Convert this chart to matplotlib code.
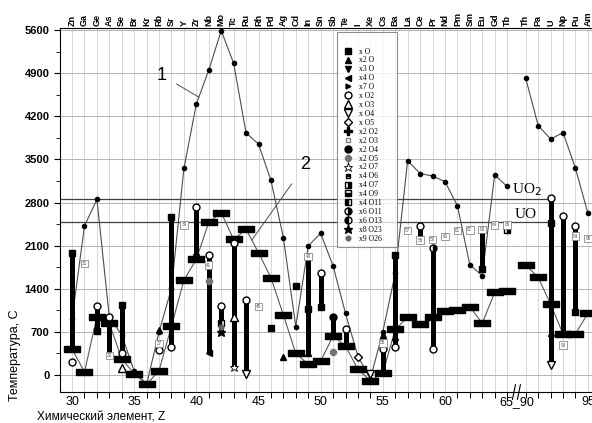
import matplotlib
matplotlib.use('Agg')
import matplotlib.pyplot as plt
import matplotlib.transforms as mtransforms
from matplotlib.lines import Line2D
from matplotlib.ticker import FixedLocator, MultipleLocator

plt.rcParams['font.family'] = ['Liberation Sans Narrow', 'Liberation Sans', 'DejaVu Sans']

# elements and their atomic numbers (66..89 are cut out of the axis)
symbols = ['Zn', 'Ga', 'Ge', 'As', 'Se', 'Br', 'Kr', 'Rb', 'Sr', 'Y', 'Zr', 'Nb', 'Mo',
           'Tc', 'Ru', 'Rh', 'Pd', 'Ag', 'Cd', 'In', 'Sn', 'Sb', 'Te', 'I', 'Xe', 'Cs',
           'Ba', 'La', 'Ce', 'Pr', 'Nd', 'Pm', 'Sm', 'Eu', 'Gd', 'Tb',
           'Th', 'Pa', 'U', 'Np', 'Pu', 'Am']
z_numbers = list(range(30, 66)) + list(range(90, 96))

# curve 1 - boiling point of the element
t_boil = [910, 2420, 2850, 940, 650, 60, -150, 700, 1410, 3355, 4400, 4950, 5590,
          5060, 3930, 3750, 3160, 2230, 785, 2095, 2300, 1770, 1000, 300, -60, 700,
          1650, 3480, 3270, 3230, 3140, 2750, 1790, 1610, 3250, 3060,
          4815, 4050, 3830, 3935, 3355, 2625]
# curve 2 - melting point of the element
t_melt = [420, 50, 947, 840, 260, 20, -150, 70, 795, 1540, 1878, 2480, 2636,
          2200, 2365, 1985, 1580, 975, 352, 173, 227, 633, 470, 93, -92, 28,
          742, 937, 823, 947, 1040, 1055, 1110, 840, 1340, 1370,
          1785, 1585, 1150, 665, 670, 1000]

# oxide ranges: (Z, top, bottom)
oxide_bars = [(30, 1985, 420), (32, 1115, 710), (33, 940, 315), (34, 1130, 245),
              (38, 2570, 460), (40, 2730, 1920), (41, 1950, 360), (42, 1120, 705),
              (43, 2140, 135), (44, 1215, 20), (49, 1920, 350), (50, 1650, 1110),
              (51, 945, 650), (52, 745, 470), (55, 650, 30), (56, 1950, 460),
              (58, 2420, 2190), (59, 2055, 430), (63, 2365, 1715),
              (92, 2870, 160), (93, 2580, 675), (94, 2420, 1030)]

# oxide melting / decomposition points, one list per formula type
x_o = [(30, 1985), (32, 710), (34, 1130), (38, 2570), (46, 770), (48, 1445),
       (49, 1065), (50, 1110), (56, 1950), (63, 1715), (92, 2475), (94, 1030)]
x2_o = [(35, 30), (37, 730), (47, 300), (49, 350), (55, 650), (56, 620), (92, 675)]
x3_o = [(40, 1920)]
x4_o = [(41, 360)]
x7_o = []
x_o2 = [(30, 215), (32, 1115), (33, 940), (34, 350), (37, 405), (38, 460), (40, 2730),
        (41, 1950), (42, 1120), (43, 2140), (44, 1215), (50, 1650), (52, 745),
        (55, 430), (56, 460), (58, 2420), (59, 430), (92, 2870), (93, 2580), (94, 2420)]
x_o3 = [(34, 110), (43, 945)]
x_o4 = [(44, 20), (54, 10), (92, 160)]
x_o5 = [(53, 300)]
x2_o2 = [(51, 650)]
x2_o3 = [(31, 1810), (33, 315), (37, 514), (39, 2435), (41, 1785), (45, 1110),
         (49, 1920), (55, 520), (57, 2345), (58, 2190), (59, 2200), (60, 2245),
         (61, 2345), (62, 2355), (63, 2365), (64, 2435), (65, 2435), (93, 485),
         (94, 2255), (95, 2215)]
x2_o4 = [(51, 945)]
x2_o5 = [(41, 1530), (51, 380)]
x2_o7 = [(43, 135)]
x4_o6 = []
x4_o7 = [(65, 2355)]
x4_o9 = []
x4_o11 = [(42, 840)]
x6_o11 = [(59, 2055)]
x6_o13 = []
x8_o23 = [(42, 705)]
x9_o26 = [(42, 780)]

t_uo2 = 2850
t_uo = 2480


def zx(z):
    # position on the broken axis
    return z if z <= 65 else z - 23.5


styles = [
    ('x O', x_o, dict(marker='s', mfc='k', mec='k', ms=4.5)),
    ('x2 O', x2_o, dict(marker='^', mfc='k', mec='k', ms=5)),
    ('x3 O', x3_o, dict(marker='v', mfc='k', mec='k', ms=5)),
    ('x4 O', x4_o, dict(marker='<', mfc='k', mec='k', ms=5)),
    ('x7 O', x7_o, dict(marker='>', mfc='k', mec='k', ms=3.5)),
    ('x O2', x_o2, dict(marker='o', mfc='white', mec='k', ms=5)),
    ('x O3', x_o3, dict(marker='^', mfc='white', mec='k', ms=5.5)),
    ('x O4', x_o4, dict(marker='v', mfc='white', mec='k', ms=5.5)),
    ('x O5', x_o5, dict(marker='D', mfc='white', mec='k', ms=4.5)),
    ('x2 O2', x2_o2, dict(marker='P', mfc='k', mec='k', ms=5.5)),
    ('x2 O3', [], dict(marker='s', mfc='white', mec='0.5', ms=3.5)),
    ('x2 O4', x2_o4, dict(marker='o', mfc='k', mec='k', ms=5)),
    ('x2 O5', x2_o5, dict(marker='8', mfc='0.45', mec='0.45', ms=5)),
    ('x2 O7', x2_o7, dict(marker='*', mfc='white', mec='k', ms=6.5, mew=0.6)),
    ('x4 O6', x4_o6, dict(marker='s', mfc='k', mec='k', fillstyle='top', markerfacecoloralt='white', ms=3.5)),
    ('x4 O7', x4_o7, dict(marker='s', mfc='k', mec='k', fillstyle='right', markerfacecoloralt='white', ms=4)),
    ('x4 O9', x4_o9, dict(marker='s', mfc='k', mec='k', fillstyle='bottom', markerfacecoloralt='white', ms=4)),
    ('x4 O11', x4_o11, dict(marker='s', mfc='k', mec='k', fillstyle='left', markerfacecoloralt='white', ms=4)),
    ('x6 O11', x6_o11, dict(marker='o', mfc='k', mec='k', fillstyle='right', markerfacecoloralt='white', ms=5)),
    ('x6 O13', x6_o13, dict(marker='o', mfc='k', mec='k', fillstyle='left', markerfacecoloralt='white', ms=5)),
    ('x8 O23', x8_o23, dict(marker='*', mfc='k', mec='k', ms=6.5)),
    ('x9 O26', x9_o26, dict(marker='8', mfc='0.4', mec='0.4', ms=3.5)),
]

fig = plt.figure(figsize=(5.92, 4.23), dpi=100)
ax = fig.add_axes([60 / 592, 31 / 423, 532 / 592, 364 / 423])
ax.set_xlim(29.03, 71.83)
ax.set_ylim(-276, 5633)

xs = [zx(z) for z in z_numbers]
for x in xs:
    ax.axvline(x, color='0.82', lw=0.6, zorder=0)
for t in range(0, 5601, 700):
    ax.axhline(t, color='0.7', lw=0.7, zorder=0)

# UO2 and UO lines
ax.hlines([t_uo2, t_uo], 29.03, zx(92), color='0.25', lw=0.9, zorder=1)
ax.text(zx(90) - 1.1, t_uo2 + 30, 'UO$_2$', family='Liberation Serif', fontsize=11, va='bottom')
ax.text(zx(90) - 0.9, t_uo + 20, 'UO', family='Liberation Serif', fontsize=11, va='bottom')

# the two curves, split at the axis break
n = 36
rect = [(-1, -0.45), (1, -0.45), (1, 0.45), (-1, 0.45), (-1, -0.45)]
for sl in (slice(0, n), slice(n, None)):
    ax.plot(xs[sl], t_boil[sl], color='0.3', lw=0.8, marker='o', ms=3,
            mfc='k', mec='k', zorder=3)
    ax.plot(xs[sl], t_melt[sl], color='0.35', lw=0.8, marker=rect, ms=11,
            mfc='k', mec='k', zorder=3)

for z, top, bot in oxide_bars:
    ax.vlines(zx(z), bot, top, color='k', lw=3.6, zorder=4)

handles = []
labels = []
for name, pts, st in styles:
    if pts:
        ax.plot([zx(z) for z, _ in pts], [t for _, t in pts], ls='none', zorder=6, **st)
    handles.append(Line2D([], [], ls='none', **st))
    labels.append(name)

for z, t in x2_o3:
    ax.text(zx(z), t, str(z), fontsize=3.3, color='0.35', ha='center', va='center', zorder=7,
            bbox=dict(boxstyle='square,pad=0.25', fc='white', ec='0.45', lw=0.5))

ax.annotate('1', xy=(40.2, 4510), xytext=(37.2, 4870), fontsize=13, ha='center', va='center',
            arrowprops=dict(arrowstyle='-', color='0.3', lw=0.7, shrinkA=6, shrinkB=0))
ax.annotate('2', xy=(44.46, 2190), xytext=(48.75, 3410), fontsize=13, ha='center', va='center',
            arrowprops=dict(arrowstyle='-', color='0.3', lw=0.7, shrinkA=7, shrinkB=0))

leg = ax.legend(handles, labels, loc='upper left', bbox_to_anchor=(0.521, 0.409, 0.112, 0.58),
                mode='expand', prop=dict(family='Liberation Serif', size=5.5), frameon=True,
                fancybox=False, edgecolor='0.45', borderaxespad=0, borderpad=0.6,
                labelspacing=0.12, handlelength=1.6, handletextpad=0.7,
                title=' ', title_fontsize=7.5)
leg.get_frame().set_linewidth(0.8)
leg.set_zorder(8)

# element symbols along the top
trans = mtransforms.blended_transform_factory(ax.transData, ax.transAxes)
for x, s in zip(xs, symbols):
    ax.text(x, 1.006, s, transform=trans, rotation=90, ha='center', va='bottom',
            fontsize=6.5, fontweight='bold')

# axes, ticks
ax.xaxis.set_major_locator(FixedLocator([30, 35, 40, 45, 50, 55, 60, 65.75, 71.5]))
ax.set_xticklabels(['30', '35', '40', '45', '50', '55', '60', '65_90', '95'], fontsize=9)
ax.xaxis.set_minor_locator(FixedLocator(xs))
ax.yaxis.set_major_locator(FixedLocator(range(0, 5601, 700)))
ax.yaxis.set_minor_locator(MultipleLocator(350))
ax.tick_params(axis='y', labelsize=8, length=4, width=0.8)
ax.tick_params(axis='y', which='minor', length=3)
ax.tick_params(axis='x', which='major', length=0, pad=3)
ax.tick_params(axis='x', which='minor', length=4, width=0.7)
for lab in ax.get_yticklabels():
    lab.set_fontweight('bold')

for side in ('top', 'left', 'bottom'):
    ax.spines[side].set_linewidth(0.8)
ax.spines['right'].set_visible(False)

# break marks on the x axis
for bx in (65.55, 65.95):
    ax.plot([bx - 0.12, bx + 0.12], [-0.02, 0.02], transform=trans, color='k', lw=0.8,
            clip_on=False, zorder=9)

ax.set_ylabel('Температура, С', fontsize=9)
ax.yaxis.set_label_coords(-0.073, 0.1)
ax.text(0.077, -0.071, 'Химический элемент, Z', transform=ax.transAxes, fontsize=8.5,
        ha='center', va='center')

fig.savefig('out.png', dpi=100)
